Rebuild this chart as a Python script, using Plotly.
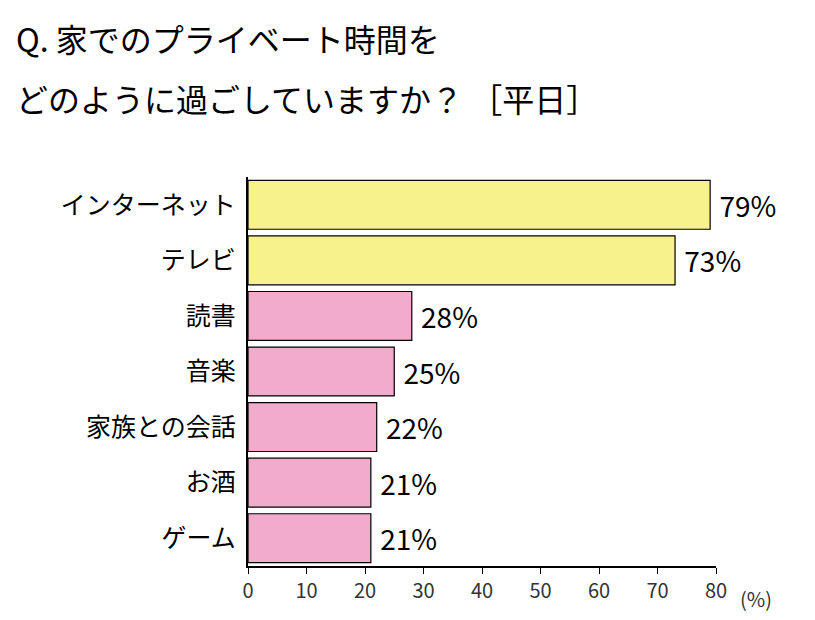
import plotly.graph_objects as go

categories = ["インターネット", "テレビ", "読書", "音楽", "家族との会話", "お酒", "ゲーム"]
values = [79, 73, 28, 25, 22, 21, 21]
colors = ["#f7f28c", "#f7f28c", "#f2abca", "#f2abca", "#f2abca", "#f2abca", "#f2abca"]
labels = [f" {v}%" for v in values]

font = "Noto Sans CJK JP"
L, R, T, B = 240, 107, 169, 62
fig = go.Figure(go.Bar(
    y=categories, x=values, orientation="h", marker=dict(color=colors, line=dict(color="black", width=1.2)),
    text=labels, textposition="outside", textfont=dict(size=28, color="black", family=font),
    width=0.88, cliponaxis=False))
fig.update_layout(
    width=815, height=620, plot_bgcolor="white", paper_bgcolor="white",
    margin=dict(l=L, r=R, t=T, b=B), showlegend=False,
    font=dict(family=font, color="black"),
    yaxis=dict(autorange="reversed", showline=True, linecolor="black", linewidth=1.5,
               ticks="", tickfont=dict(size=25), ticksuffix=" ", range=[6.55, -0.6]),
    xaxis=dict(range=[0, 80], dtick=10, showline=True, linecolor="black", linewidth=1.5,
               ticks="outside", ticklen=6, tickcolor="black", showgrid=False,
               tickfont=dict(size=20, color="#333")),
)
texts = [("Q. 家でのプライベート時間を", 6, 30, 32, "black"),
         ("どのように過ごしていますか？ ［平日］", 6, 90, 32, "black"),
         ("(%)", 730, 590, 20, "#333")]
anns = []
for t, px, py, sz, c in texts:
    anns.append(dict(text=t, x=(px - L) / (815 - L - R), y=(620 - B - py) / (620 - T - B),
                     xref="paper", yref="paper", xanchor="left", yanchor="middle", showarrow=False,
                     font=dict(size=sz, color=c, family=font)))
fig.update_layout(annotations=anns)
fig.write_html("out.html")
